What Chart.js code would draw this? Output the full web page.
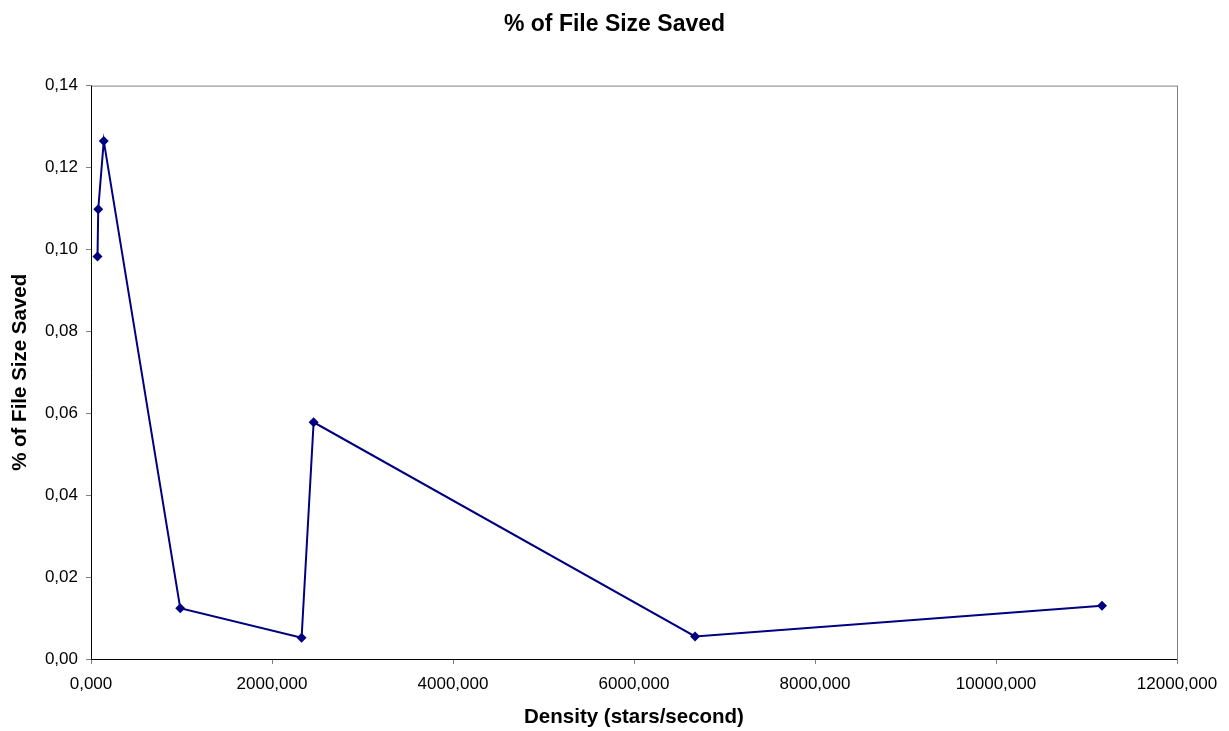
<!DOCTYPE html>
<html>
<head>
<meta charset="utf-8">
<script src="https://cdn.jsdelivr.net/npm/chart.js@4"></script>
<style>
  html, body { margin: 0; padding: 0; background: #fff; }
  canvas { display: block; }
</style>
</head>
<body>
<canvas id="chart" width="1229" height="731"></canvas>
<script>
// density values (axis shown as "2000,000" etc, decimal comma)
const density = [72, 80, 141, 986, 2327, 2460, 6675, 11171];
const saved = [0.0983, 0.1098, 0.1265, 0.0124, 0.0052, 0.0578, 0.0055, 0.0130];

const xMax = 12000;
const yMax = 0.14;

const points = density.map((x, i) => ({ x, y: saved[i] }));

// gray frame around plot area, black left/bottom axes
const frame = {
  id: "frame",
  afterDraw(c) {
    const a = c.chartArea, ctx = c.ctx;
    ctx.save();
    ctx.strokeStyle = "#808080";
    ctx.lineWidth = 1;
    ctx.strokeRect(a.left + 0.5, a.top + 0.5, a.right - a.left, a.bottom - a.top);
    ctx.strokeStyle = "#000";
    ctx.beginPath();
    ctx.moveTo(a.left + 0.5, a.top);
    ctx.lineTo(a.left + 0.5, a.bottom + 0.5);
    ctx.lineTo(a.right, a.bottom + 0.5);
    ctx.stroke();
    ctx.restore();
  },
};

const font = "'Liberation Sans', Arial, sans-serif";

new Chart(document.getElementById("chart"), {
  type: "scatter",
  data: {
    datasets: [
      {
        data: points,
        showLine: true,
        borderColor: "#000080",
        backgroundColor: "#000080",
        borderWidth: 2,
        pointStyle: "rectRot",
        pointRadius: 5,
        pointBorderWidth: 0,
        tension: 0,
      },
    ],
  },
  options: {
    responsive: false,
    animation: false,
    layout: { padding: 0 },
    plugins: {
      legend: { display: false },
      tooltip: { enabled: false },
      title: {
        display: true,
        text: "% of File Size Saved",
        color: "#000",
        font: { family: font, size: 23, weight: "bold" },
        padding: { top: 11, bottom: 47 },
      },
    },
    scales: {
      x: {
        type: "linear",
        min: 0,
        max: xMax,
        afterFit: (s) => { s.height = 72; },
        ticks: {
          stepSize: 2000,
          autoSkip: false,
          color: "#000",
          font: { family: font, size: 17 },
          padding: 10,
          maxRotation: 0,
          callback: (v) => v.toFixed(3).replace(".", ","),
        },
        grid: { drawOnChartArea: false, drawTicks: true, tickLength: 5, color: "#808080" },
        border: { display: false },
        title: {
          display: true,
          text: "Density (stars/second)",
          color: "#000",
          font: { family: font, size: 20.5, weight: "bold" },
          padding: { top: 0, bottom: 1 },
        },
      },
      y: {
        min: 0,
        max: yMax,
        afterFit: (s) => { s.width = 91; },
        ticks: {
          stepSize: 0.02,
          color: "#000",
          font: { family: font, size: 17 },
          padding: 8,
          callback: (v) => v.toFixed(2).replace(".", ","),
        },
        grid: { drawOnChartArea: false, drawTicks: true, tickLength: 5, color: "#808080" },
        border: { display: false },
        title: {
          display: true,
          text: "% of File Size Saved",
          color: "#000",
          font: { family: font, size: 20.5, weight: "bold" },
          padding: { top: 8, bottom: 0 },
        },
      },
      // empty right-hand box, keeps the plot clear of the right edge
      pad: {
        position: "right",
        display: true,
        afterFit: (s) => { s.width = 52; },
        ticks: { display: false },
        grid: { display: false },
        border: { display: false },
      },
    },
  },
  plugins: [frame],
});
</script>
</body>
</html>
